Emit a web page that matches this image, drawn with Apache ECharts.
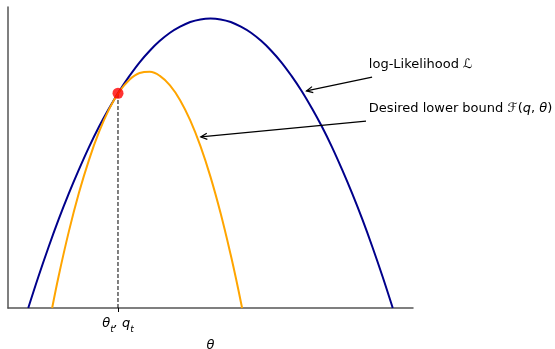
<!DOCTYPE html>
<html>
<head>
<meta charset="utf-8">
<script src="https://cdn.jsdelivr.net/npm/echarts@6/dist/echarts.min.js"></script>
<style>
  html, body { margin: 0; padding: 0; background: #fff; }
  #chart { width: 555px; height: 349px; }
</style>
</head>
<body>
<div id="chart"></div>
<script>
// values (x in theta units 0..10, y in normalised height)
const likelihoodX = [0.5, 0.75, 1, 1.25, 1.5, 1.75, 2, 2.25, 2.5, 2.75, 3, 3.25, 3.5, 3.75, 4, 4.25, 4.5, 4.75, 5,
  5.25, 5.5, 5.75, 6, 6.25, 6.5, 6.75, 7, 7.25, 7.5, 7.75, 8, 8.25, 8.5, 8.75, 9, 9.25, 9.5];
const likelihoodY = [0, 0.108, 0.21, 0.306, 0.395, 0.478, 0.556, 0.627, 0.691, 0.75, 0.802, 0.849, 0.889, 0.923, 0.951, 0.972, 0.988, 0.997, 1,
  0.997, 0.988, 0.972, 0.951, 0.923, 0.889, 0.849, 0.802, 0.75, 0.691, 0.627, 0.556, 0.478, 0.395, 0.306, 0.21, 0.108, 0];
const boundX = [1.09, 1.25, 1.5, 1.75, 2, 2.25, 2.5, 2.75, 3, 3.25, 3.5, 3.75, 4, 4.25, 4.5, 4.75, 5, 5.25, 5.5, 5.65, 5.78];
const boundY = [0, 0.11, 0.263, 0.397, 0.512, 0.609, 0.688, 0.748, 0.789, 0.812, 0.816, 0.802, 0.769, 0.718, 0.648, 0.56, 0.453, 0.327, 0.183, 0.088, 0];
const thetaT = 2.716;
const touchY = 0.742;
const tickLabels = ["{m|θ}{s|t}{m|, q}{s|t}"];
// annotation: text x, text y, arrow tail x, tail y, tip x, tip y
const noteLabels = [
  "{n|log-Likelihood }{i|ℒ}",
  "{n|Desired lower bound }{i|ℱ}{n|(}{i|q}{n|, }{i|θ}{n|)}"
];
const notes = [
  [8.91, 0.84, 8.99, 0.798, 7.37, 0.75],
  [8.91, 0.688, 8.84, 0.646, 4.76, 0.591]
];

const zip = (xs, ys) => xs.map((x, i) => [x, ys[i]]);

let myChart = echarts.init(document.getElementById("chart"));

const option = {
  animation: false,
  grid: { left: 8, right: 142, top: 7, bottom: 41, outerBoundsMode: "none" },
  xAxis: {
    type: "value",
    min: 0,
    max: 10,
    name: "θ",
    nameLocation: "middle",
    nameGap: 26,
    nameTextStyle: {
      fontFamily: "DejaVu Sans",
      fontStyle: "italic",
      fontSize: 13,
      color: "#000"
    },
    axisLine: { lineStyle: { color: "#555", width: 1.5 } },
    axisTick: {
      show: true,
      customValues: [thetaT],
      length: 4,
      lineStyle: { color: "#000", width: 1 }
    },
    axisLabel: {
      customValues: [thetaT],
      margin: 9,
      formatter: () => tickLabels[0],
      rich: {
        m: {
          fontFamily: "DejaVu Sans",
          fontStyle: "italic",
          fontSize: 13,
          color: "#000",
          lineHeight: 14,
          verticalAlign: "top"
        },
        s: {
          fontFamily: "DejaVu Sans",
          fontStyle: "italic",
          fontSize: 9,
          color: "#000",
          lineHeight: 9,
          padding: [8, 0, 0, 0],
          verticalAlign: "top"
        }
      }
    },
    splitLine: { show: false }
  },
  yAxis: {
    type: "value",
    min: 0,
    max: 1.04,
    axisLine: { show: true, lineStyle: { color: "#555", width: 1.5 } },
    axisTick: { show: false },
    axisLabel: { show: false },
    splitLine: { show: false }
  },
  series: [
    {
      type: "line",
      data: [[thetaT, 0], [thetaT, touchY]],
      symbol: "none",
      lineStyle: { color: "#000", width: 1, type: [4, 2] },
      z: 2
    },
    {
      type: "line",
      data: zip(likelihoodX, likelihoodY),
      smooth: 0.4,
      symbol: "none",
      lineStyle: { color: "#00008b", width: 2 },
      z: 3
    },
    {
      type: "line",
      data: zip(boundX, boundY),
      smooth: 0.4,
      symbol: "none",
      lineStyle: { color: "#ffa500", width: 2 },
      z: 4
    },
    {
      type: "scatter",
      data: [[thetaT, touchY]],
      symbol: "circle",
      symbolSize: 11,
      itemStyle: { color: "#ff0000" },
      z: 5
    },
    {
      type: "custom",
      data: notes,
      z: 6,
      renderItem: function(params, api) {
        const txt = api.coord([api.value(0), api.value(1)]);
        const tail = api.coord([api.value(2), api.value(3)]);
        const tip = api.coord([api.value(4), api.value(5)]);
        const ang = Math.atan2(tail[1] - tip[1], tail[0] - tip[0]);
        const len = 7, spread = 0.45;
        const h1 = [tip[0] + len * Math.cos(ang + spread), tip[1] + len * Math.sin(ang + spread)];
        const h2 = [tip[0] + len * Math.cos(ang - spread), tip[1] + len * Math.sin(ang - spread)];
        return {
          type: "group",
          children: [
            {
              type: "line",
              shape: { x1: tail[0], y1: tail[1], x2: tip[0], y2: tip[1] },
              style: { stroke: "#000", lineWidth: 1.2 }
            },
            {
              type: "polyline",
              shape: { points: [h1, tip, h2] },
              style: { stroke: "#000", lineWidth: 1.2, fill: null }
            },
            {
              type: "text",
              x: txt[0],
              y: txt[1],
              style: {
                text: noteLabels[params.dataIndex],
                verticalAlign: "middle",
                align: "left",
                rich: {
                  n: { fontFamily: "DejaVu Sans", fontSize: 13, color: "#000" },
                  i: { fontFamily: "DejaVu Sans", fontStyle: "italic", fontSize: 13, color: "#000" }
                }
              }
            }
          ]
        };
      }
    }
  ]
};

myChart.setOption(option);
</script>
</body>
</html>
